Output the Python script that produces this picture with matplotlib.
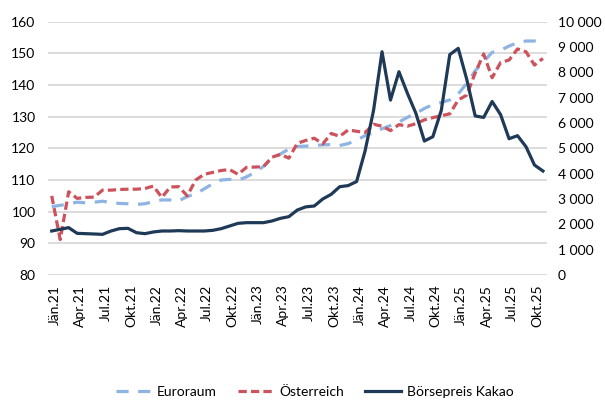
import numpy as np
import matplotlib.pyplot as plt
from matplotlib.ticker import FuncFormatter

plt.rcParams['font.family'] = ['Lato', 'DejaVu Sans']

# Monatswerte Jän.21 bis Nov.25
euroraum = [101.6, 102.0, 102.5, 103.0, 102.8, 103.0, 103.3, 102.9, 102.6, 102.5,
            102.3, 102.5, 103.2, 103.7, 103.7, 103.4, 104.8, 105.6, 107.2, 108.8,
            110.0, 110.2, 109.9, 111.0, 112.4, 114.3, 116.8, 118.2, 119.8, 120.6,
            120.7, 120.9, 121.1, 121.2, 120.9, 121.5, 122.6, 124.0, 125.0, 126.2,
            127.2, 128.3, 129.8, 131.0, 132.6, 133.8, 134.5, 135.3, 137.2, 140.5,
            144.5, 147.4, 150.3, 151.0, 152.3, 153.4, 153.9, 153.9, 153.3]
oesterreich = [105.0, 91.2, 106.3, 104.2, 104.5, 104.6, 106.8, 106.8, 107.0, 107.1,
               107.1, 107.3, 108.1, 104.5, 107.8, 107.9, 105.0, 110.0, 111.8, 112.4,
               113.0, 113.3, 111.8, 114.0, 114.1, 114.2, 117.2, 118.1, 116.9, 121.6,
               122.5, 123.2, 121.4, 124.7, 123.8, 125.8, 125.4, 125.0, 127.6, 127.0,
               125.6, 127.5, 127.0, 127.8, 129.0, 129.7, 130.3, 130.9, 135.3, 136.8,
               143.8, 149.8, 142.3, 147.1, 147.9, 151.4, 150.5, 146.3, 148.4]
kakao = [1737, 1803, 1869, 1645, 1632, 1619, 1605, 1737, 1829, 1842,
         1671, 1632, 1698, 1737, 1737, 1750, 1737, 1737, 1737, 1763,
         1829, 1934, 2040, 2066, 2066, 2066, 2132, 2237, 2303, 2566,
         2690, 2724, 3000, 3185, 3485, 3530, 3690, 4900, 6500, 8814,
         6907, 8025, 7171, 6382, 5289, 5459, 6500, 8700, 8948, 7730,
         6280, 6220, 6850, 6330, 5380, 5500, 5064, 4342, 4105]

monate = ['Jän', 'Apr', 'Jul', 'Okt']
jahre = ['21', '22', '23', '24', '25']
tick_labels = [f'{m}.{j}' for j in jahre for m in monate]

x = np.arange(len(kakao))

fig = plt.figure(figsize=(6.05, 4.03), dpi=100)
ax = fig.add_axes([48/605, 1-275/403, (547-48)/605, (275-21.7)/403])
ax2 = ax.twinx()

l1, = ax.plot(x, euroraum, color='#8DB4E2', lw=2.3, dashes=(3.8, 3.0), label='Euroraum')
l2, = ax.plot(x, oesterreich, color='#CC525C', lw=2.3, dashes=(2.6, 1.3), label='Österreich')
l3, = ax2.plot(x, kakao, color='#1E3A57', lw=2.3, label='Börsepreis Kakao')

ax.set_ylim(80, 160)
ax.set_yticks(np.arange(80, 161, 10))
ax2.set_ylim(0, 10000)
ax2.set_yticks(np.arange(0, 10001, 1000))
ax2.yaxis.set_major_formatter(FuncFormatter(lambda v, p: f'{int(v):,}'.replace(',', ' ')))
ax.set_xlim(-0.44, 58.48)

ax.set_xticks(np.arange(0, 58, 3) + 0.35)
ax.set_xticklabels(tick_labels, rotation=90)

ax.grid(axis='y', color='#D9D9D9', lw=1.3)
ax.set_axisbelow(True)
for a in (ax, ax2):
    for s in a.spines.values():
        s.set_visible(False)
    a.tick_params(length=0, labelsize=10, colors='#000000')
ax.tick_params(axis='y', pad=9)
ax.tick_params(axis='x', pad=7)
ax2.tick_params(axis='y', pad=8)

fig.legend(handles=[l1, l2, l3], loc='center', bbox_to_anchor=(0.52, 1-392/403),
           ncol=3, frameon=False, fontsize=10, handlelength=2.6,
           handletextpad=0.4, columnspacing=1.5)

fig.savefig('out.png', dpi=100)
